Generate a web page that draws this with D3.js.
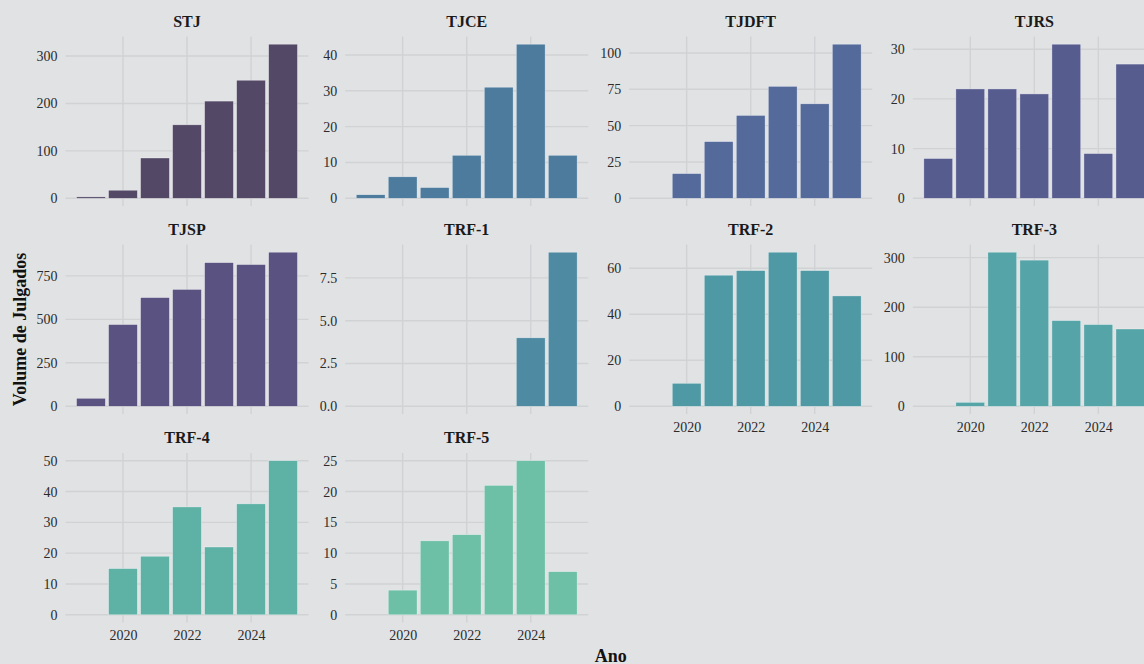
<!DOCTYPE html>
<html>
<head>
<meta charset="utf-8">
<script src="https://cdn.jsdelivr.net/npm/d3@7"></script>
<style>
  html, body { margin: 0; padding: 0; background: #e1e2e4; }
  svg { display: block; }
  svg text { font-family: "Liberation Serif", "Times New Roman", serif !important; }
</style>
</head>
<body>
<svg id="chart" width="1144" height="664"></svg>
<script>
// ---- data ----
const years = [2019, 2020, 2021, 2022, 2023, 2024, 2025];
const courts = ["STJ", "TJCE", "TJDFT", "TJRS", "TJSP", "TRF-1", "TRF-2", "TRF-3", "TRF-4", "TRF-5"];
const stj   = [3, 17, 85, 155, 205, 249, 325];
const tjce  = [1, 6, 3, 12, 31, 43, 12];
const tjdft = [null, 17, 39, 57, 77, 65, 106];
const tjrs  = [8, 22, 22, 21, 31, 9, 27];
const tjsp  = [46, 470, 625, 672, 826, 815, 886];
const trf1  = [null, null, null, null, null, 4, 9];
const trf2  = [null, 10, 57, 59, 67, 59, 48];
const trf3  = [null, 8, 311, 295, 173, 165, 156];
const trf4  = [null, 15, 19, 35, 22, 36, 50];
const trf5  = [null, 4, 12, 13, 21, 25, 7];
const seriesValues = [stj, tjce, tjdft, tjrs, tjsp, trf1, trf2, trf3, trf4, trf5];
const courtColors = ["#534866", "#4d7b9d", "#546a9a", "#575c8f", "#5a5381",
                     "#4f8aa3", "#4f99a4", "#55a4a7", "#5db1a5", "#6dbfa5"];
const yTicks = [
  [0, 100, 200, 300],
  [0, 10, 20, 30, 40],
  [0, 25, 50, 75, 100],
  [0, 10, 20, 30],
  [0, 250, 500, 750],
  [0, 2.5, 5, 7.5],
  [0, 20, 40, 60],
  [0, 100, 200, 300],
  [0, 10, 20, 30, 40, 50],
  [0, 5, 10, 15, 20, 25]
];
const yTickFormats = ["d", "d", "d", "d", "d", ".1f", "d", "d", "d", "d"];
const xTicks = [2020, 2022, 2024];
const xTitle = "Ano";
const yTitle = "Volume de Julgados";

// ---- layout ----
const svg = d3.select("#chart");
const W = 1144, H = 664;
const FONT = '"Liberation Serif", "Times New Roman", serif';
svg.append("rect").attr("width", W).attr("height", H).attr("fill", "#e1e2e4");

const nCol = 4;
const colLeft = [65.5, 345.2, 629.2, 912.8];
const rowTop = [36.5, 244.5, 453];
const panelW = 243, panelH = 169.5;
const gridColor = "#d1d2d4";
const barWidthYears = 0.9;

const xMin = d3.min(years) - barWidthYears / 2, xMax = d3.max(years) + barWidthYears / 2;
const xPad = (xMax - xMin) * 0.05;
const x = d3.scaleLinear().domain([xMin - xPad, xMax + xPad]).range([0, panelW]);

const nPanels = courts.length;
const nRows = Math.ceil(nPanels / nCol);

courts.forEach((court, i) => {
  const col = i % nCol, row = Math.floor(i / nCol);
  const vals = seriesValues[i];
  const maxV = d3.max(vals.filter(v => v != null));
  const yPad = maxV * 0.05;
  const y = d3.scaleLinear().domain([-yPad, maxV + yPad]).range([panelH, 0]);
  const g = svg.append("g").attr("transform", `translate(${colLeft[col]},${rowTop[row]})`);

  // gridlines
  g.selectAll("line.gx").data(xTicks).join("line")
    .attr("x1", d => x(d)).attr("x2", d => x(d))
    .attr("y1", 0).attr("y2", panelH)
    .attr("stroke", gridColor).attr("stroke-width", 1.4);
  g.selectAll("line.gy").data(yTicks[i]).join("line")
    .attr("x1", 0).attr("x2", panelW)
    .attr("y1", d => y(d)).attr("y2", d => y(d))
    .attr("stroke", gridColor).attr("stroke-width", 1.4);

  // y axis (labels only)
  const yAxis = d3.axisLeft(y).tickValues(yTicks[i]).tickSize(0).tickPadding(8)
    .tickFormat(d3.format(yTickFormats[i]));
  const ya = g.append("g").call(yAxis).attr("font-family", FONT);
  ya.select(".domain").remove();
  ya.selectAll("text").style("font-family", FONT).style("font-size", "14px").attr("fill", "#2b2b2b");

  // bars
  const data = years.map((yr, k) => ({ year: yr, v: vals[k] })).filter(d => d.v != null);
  const bw = x(barWidthYears) - x(0);
  g.selectAll("rect.bar").data(data).join("rect")
    .attr("x", d => x(d.year) - bw / 2)
    .attr("width", bw)
    .attr("y", d => y(d.v))
    .attr("height", d => y(0) - y(d.v))
    .attr("fill", courtColors[i])
    .attr("stroke", "rgba(255,255,255,0.55)")
    .attr("stroke-width", 0.6);

  // strip title
  g.append("text").attr("x", panelW / 2).attr("y", -10)
    .attr("text-anchor", "middle").style("font-family", FONT).style("font-size", "16px")
    .attr("font-weight", "bold").attr("fill", "#1a1a1a").text(court);

  // x axis labels only on bottom-most panel of each column
  const isBottom = (i + nCol) >= nPanels;
  if (isBottom) {
    const xAxis = d3.axisBottom(x).tickValues(xTicks).tickSize(0).tickPadding(8)
      .tickFormat(d3.format("d"));
    const xa = g.append("g").attr("transform", `translate(0,${panelH})`).call(xAxis)
      .attr("font-family", FONT);
    xa.select(".domain").remove();
    xa.selectAll("text").style("font-family", FONT).style("font-size", "14px").attr("fill", "#2b2b2b");
  }
});

// axis titles
const panelsLeft = colLeft[0], panelsRight = colLeft[nCol - 1] + panelW;
svg.append("text").attr("x", (panelsLeft + panelsRight) / 2).attr("y", 661.5)
  .attr("text-anchor", "middle").style("font-family", FONT).style("font-size", "18px")
  .attr("font-weight", "bold").attr("fill", "#111").text(xTitle);
const midY = (rowTop[0] + rowTop[nRows - 1] + panelH) / 2;
svg.append("text").attr("transform", `translate(25.5,${midY}) rotate(-90)`)
  .attr("text-anchor", "middle").style("font-family", FONT).style("font-size", "18px")
  .attr("font-weight", "bold").attr("fill", "#111").text(yTitle);
</script>
</body>
</html>
